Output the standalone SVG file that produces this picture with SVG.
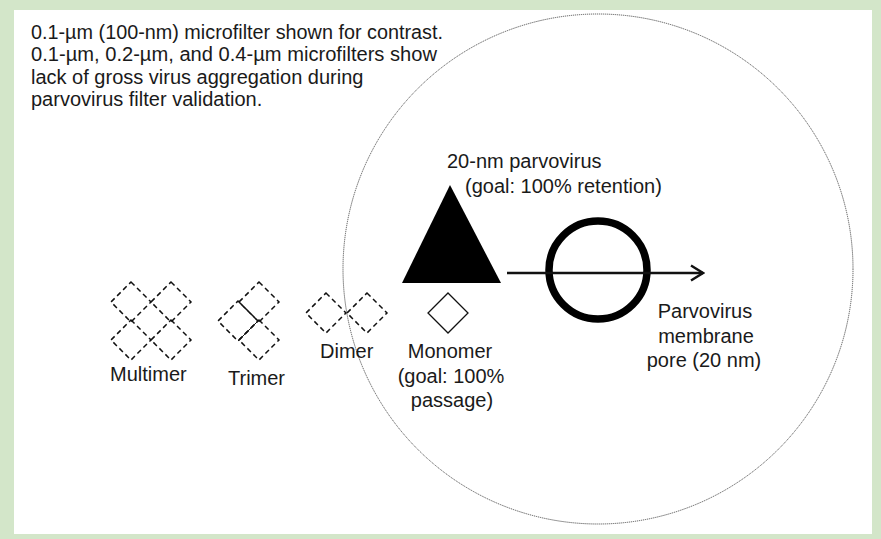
<svg xmlns="http://www.w3.org/2000/svg" width="881" height="539" viewBox="0 0 881 539">
<defs>
<style>
text{font-family:"Liberation Sans",Arial,sans-serif;fill:#1a1a1a}
.note{font-size:20px}
.lbl{font-size:20px}
.dash{fill:none;stroke:#111;stroke-width:1.5;stroke-dasharray:5 3.5}
</style>
<marker id="arr" viewBox="0 0 16 18" refX="14" refY="9" markerWidth="16" markerHeight="18" markerUnits="userSpaceOnUse" orient="auto">
<path d="M2,1.5 L14,9 L2,16.5" fill="none" stroke="#111" stroke-width="2.4"/>
</marker>
</defs>
<rect x="0" y="0" width="881" height="539" fill="#d3e6c9"/>
<rect x="14" y="10" width="858" height="524" fill="#fff"/>
<g id="filter-circle">
<circle cx="598" cy="269" r="255" fill="none" stroke="#555" stroke-width="1" stroke-dasharray="1.2 0.8"/>
</g>
<g id="note">
<text class="note" x="31" y="38.5" textLength="412" lengthAdjust="spacingAndGlyphs">0.1-µm (100-nm) microfilter shown for contrast.</text>
<text class="note" x="31" y="61" textLength="406" lengthAdjust="spacingAndGlyphs">0.1-µm, 0.2-µm, and 0.4-µm microfilters show</text>
<text class="note" x="31" y="83.5">lack of gross virus aggregation during</text>
<text class="note" x="31" y="106">parvovirus filter validation.</text>
</g>
<g id="multimer">
<path class="dash" d="M131,282 L151,302 L131,322 L111,302 Z"/>
<path class="dash" d="M171,282 L191,302 L171,322 L151,302 Z"/>
<path class="dash" d="M131,320 L151,340 L131,360 L111,340 Z"/>
<path class="dash" d="M171,320 L191,340 L171,360 L151,340 Z"/>
<text class="lbl" x="110" y="381">Multimer</text>
</g>
<g id="trimer">
<path class="dash" d="M259,282 L279,302 L259,322 L239,302 Z"/>
<path class="dash" d="M259,320 L279,340 L259,360 L239,340 Z"/>
<path class="dash" d="M238,301 L258,321 L238,341 L218,321 Z"/>
<path d="M238,301 L258,321 L238,341" fill="none" stroke="#111" stroke-width="1"/>
<text class="lbl" x="228" y="385">Trimer</text>
</g>
<g id="dimer">
<path class="dash" d="M326,293 L346,313 L326,333 L306,313 Z"/>
<path class="dash" d="M367,293 L387,313 L367,333 L347,313 Z"/>
<text class="lbl" x="320" y="358">Dimer</text>
</g>
<g id="monomer">
<path d="M448,293 L468,313 L448,333 L428,313 Z" fill="#fff" stroke="#111" stroke-width="1.3"/>
<text class="lbl" x="450" y="358" text-anchor="middle">Monomer</text>
<text class="lbl" x="451" y="383" text-anchor="middle">(goal: 100%</text>
<text class="lbl" x="452" y="407" text-anchor="middle">passage)</text>
</g>
<g id="parvovirus">
<path d="M450,185 L501,283 L402,283 Z" fill="#000"/>
<text class="lbl" x="447" y="167.5">20-nm parvovirus</text>
<text class="lbl" x="465" y="192.5">(goal: 100% retention)</text>
</g>
<g id="pore">
<circle cx="598" cy="270" r="49" fill="none" stroke="#000" stroke-width="7.5"/>
<text class="lbl" x="705" y="318" text-anchor="middle">Parvovirus</text>
<text class="lbl" x="706" y="343" text-anchor="middle">membrane</text>
<text class="lbl" x="704" y="367" text-anchor="middle">pore (20 nm)</text>
</g>
<g id="connectors">
<line x1="507" y1="273" x2="703" y2="273" stroke="#111" stroke-width="2.4" marker-end="url(#arr)"/>
</g>
</svg>
